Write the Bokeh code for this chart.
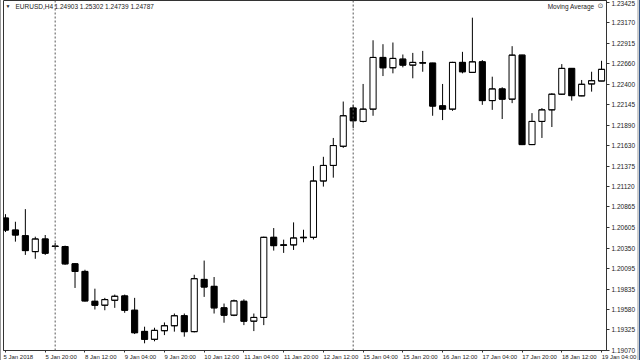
from bokeh.plotting import figure
from bokeh.models import ColumnDataSource, FixedTicker, Span, Label, Range1d, Div, PrintfTickFormatter
from bokeh.layouts import row
from bokeh.embed import file_html
from bokeh.resources import INLINE

# EURUSD H4 candles (open, high, low, close), one per 4-hour bar
opens = [1.20726, 1.20576, 1.20505, 1.20306, 1.20464, 1.20375, 1.20369, 1.20153, 1.20058, 1.19684,
         1.19635, 1.19697, 1.19751, 1.19572, 1.19307, 1.19208, 1.19316, 1.19378, 1.19503, 1.19304,
         1.19958, 1.19871, 1.19602, 1.19510, 1.19684, 1.19435, 1.19482, 1.20485, 1.20390, 1.20390,
         1.20480, 1.20485, 1.21190, 1.21385, 1.21625, 1.22103, 1.21936, 1.22090, 1.22737, 1.22608,
         1.22716, 1.22641, 1.22670, 1.22666, 1.22131, 1.22090, 1.22675, 1.22550, 1.22682, 1.22197,
         1.22343, 1.22215, 1.22766, 1.21646, 1.21936, 1.22081, 1.22277, 1.22600, 1.22256, 1.22405,
         1.22442]
highs = [1.20775, 1.20680, 1.20838, 1.20493, 1.20514, 1.20415, 1.20381, 1.20162, 1.20079, 1.19842,
         1.19727, 1.19768, 1.19768, 1.19727, 1.19366, 1.19353, 1.19419, 1.19531, 1.19531, 1.20016,
         1.20194, 1.19988, 1.19656, 1.19705, 1.19709, 1.19531, 1.20493, 1.20601, 1.20456, 1.20672,
         1.20580, 1.21376, 1.21493, 1.21729, 1.22185, 1.22144, 1.22405, 1.22952, 1.22903, 1.22924,
         1.22774, 1.22794, 1.22819, 1.22670, 1.22405, 1.22682, 1.22807, 1.23235, 1.22704, 1.22496,
         1.22364, 1.22878, 1.22770, 1.22040, 1.22103, 1.22289, 1.22654, 1.22605, 1.22455, 1.22558,
         1.22695]
lows = [1.20551, 1.20431, 1.20265, 1.20216, 1.20265, 1.20340, 1.20141, 1.19851, 1.19681, 1.19581,
        1.19572, 1.19602, 1.19540, 1.19274, 1.19158, 1.19183, 1.19261, 1.19304, 1.19241, 1.19295,
        1.19739, 1.19531, 1.19416, 1.19498, 1.19386, 1.19311, 1.19386, 1.20319, 1.20290, 1.20327,
        1.20423, 1.20458, 1.21120, 1.21232, 1.21605, 1.21854, 1.21924, 1.22007, 1.22504, 1.22538,
        1.22613, 1.22476, 1.22558, 1.22007, 1.21953, 1.22069, 1.22538, 1.22548, 1.22144, 1.22081,
        1.21966, 1.22165, 1.21640, 1.21640, 1.21729, 1.21866, 1.22268, 1.22197, 1.22252, 1.22309,
        1.22440]
closes = [1.20576, 1.20514, 1.20319, 1.20464, 1.20286, 1.20370, 1.20153, 1.20058, 1.19689, 1.19635,
          1.19705, 1.19747, 1.19572, 1.19291, 1.19208, 1.19320, 1.19378, 1.19503, 1.19304, 1.19967,
          1.19863, 1.19602, 1.19510, 1.19689, 1.19435, 1.19482, 1.20485, 1.20381, 1.20386, 1.20477,
          1.20485, 1.21190, 1.21385, 1.21634, 1.22007, 1.21945, 1.22090, 1.22737, 1.22608, 1.22725,
          1.22641, 1.22675, 1.22668, 1.22128, 1.22090, 1.22675, 1.22558, 1.22682, 1.22197, 1.22343,
          1.22215, 1.22766, 1.21646, 1.21936, 1.22081, 1.22277, 1.22600, 1.22259, 1.22401, 1.22446,
          1.22588]

tick_bars = [0, 4, 8, 12, 16, 20, 24, 28, 32, 36, 40, 44, 48, 52, 56, 60]
tick_labels = ["5 Jan 2018", "5 Jan 20:00", "8 Jan 12:00", "9 Jan 04:00", "9 Jan 20:00",
               "10 Jan 12:00", "11 Jan 04:00", "11 Jan 20:00", "12 Jan 12:00", "15 Jan 04:00",
               "15 Jan 20:00", "16 Jan 12:00", "17 Jan 04:00", "17 Jan 20:00", "18 Jan 12:00",
               "19 Jan 04:00"]
price_ticks = [1.23425, 1.23170, 1.22915, 1.22660, 1.22400, 1.22145, 1.21890, 1.21630, 1.21375,
               1.21120, 1.20865, 1.20605, 1.20350, 1.20095, 1.19835, 1.19580, 1.19325, 1.19070]
week_separators = [5, 35]

bars = list(range(len(opens)))
half = 0.31
src = ColumnDataSource(dict(
    x=bars,
    top=[max(o, c) for o, c in zip(opens, closes)],
    bottom=[min(o, c) for o, c in zip(opens, closes)],
    high=highs, low=lows,
    xl=[b - half for b in bars], xr=[b + half for b in bars],
    o=opens, c=closes,
    color=["white" if c > o else "black" for o, c in zip(opens, closes)],
))

FONT = "Liberation Sans"

# Arial/Liberation Sans advance widths (em) used to left-align centred axis labels
_W = {" ": 0.278, ":": 0.278, "J": 0.5}
def _em(s):
    return sum(_W.get(ch, 0.556) for ch in s)

def left_aligned(s):
    n = int(round(_em(s) / 0.278))
    return "\u00a0" * n + s

overrides = {}
for k, (b, l) in enumerate(zip(tick_bars, tick_labels)):
    # the first label is pinned to the left edge by the axis itself
    overrides[b] = l if k == 0 else left_aligned(l)

p = figure(frame_width=603, frame_height=350,
           x_range=Range1d(-0.2, 60.5), y_range=Range1d(1.19068, 1.23450),
           y_axis_location="right", toolbar_location=None, output_backend="svg",
           min_border_left=0, min_border_top=0, min_border_right=29, min_border_bottom=0,
           background_fill_color="white", border_fill_color="white",
           outline_line_color="#333333")
p.grid.visible = False

for s in week_separators:
    p.add_layout(Span(location=s, dimension="height", line_color="#555555",
                      line_dash="2 2", line_width=1))

p.segment(x0="x", y0="low", x1="x", y1="high", source=src, line_color="black", line_width=1)
p.vbar(x="x", top="top", bottom="bottom", width=2 * half, fill_color="color",
       line_color="black", line_width=1, source=src)
p.segment(x0="xl", y0="o", x1="xr", y1="o", source=src, line_color="black", line_width=1)
p.segment(x0="xl", y0="c", x1="xr", y1="c", source=src, line_color="black", line_width=1)

ya = p.yaxis[0]
ya.ticker = FixedTicker(ticks=price_ticks)
ya.formatter = PrintfTickFormatter(format="%.5f")
ya.major_label_text_font = FONT
ya.major_label_text_font_size = "6.5px"
ya.major_label_text_color = "#222222"
ya.major_tick_out = 3
ya.major_tick_in = 0
ya.minor_tick_out = 0
ya.minor_tick_in = 0
ya.major_label_standoff = 2
ya.axis_line_color = "#333333"
ya.major_tick_line_color = "#333333"

xa = p.xaxis[0]
xa.ticker = FixedTicker(ticks=tick_bars)
xa.major_label_overrides = overrides
xa.major_label_text_font = FONT
xa.major_label_text_font_size = "6px"
xa.major_label_text_color = "#222222"
xa.major_tick_out = 2
xa.major_tick_in = 0
xa.minor_tick_out = 0
xa.minor_tick_in = 0
xa.major_label_standoff = 1
xa.axis_line_color = "#333333"
xa.major_tick_line_color = "#333333"

hdr = dict(x_units="screen", y_units="screen", text_font=FONT, text_font_size="6.5px",
           text_color="#222222", text_baseline="middle")
p.add_layout(Label(x=2, y=344.5, text="\u25bc", x_units="screen", y_units="screen",
                   text_font=FONT, text_font_size="5px", text_color="#222222",
                   text_baseline="middle"))
p.add_layout(Label(x=12, y=344.5, text="EURUSD,H4", **hdr))
p.add_layout(Label(x=51, y=344.5, text="1.24903 1.25302 1.24739 1.24787", **hdr))
p.add_layout(Label(x=591, y=344.5, text="Moving Average", text_align="right", **hdr))
p.add_layout(Label(x=597, y=344.5, text="\u2299", text_align="center", x_units="screen", y_units="screen",
                   text_font="DejaVu Sans", text_font_size="7px", text_color="#444444",
                   text_baseline="middle"))

left = Div(width=3, height=360, margin=0,
           styles={"border-left": "1px solid #9a9a9a", "box-sizing": "border-box", "height": "360px"})
right = Div(width=5, height=360, margin=0,
            styles={"background": "#34578a", "border-left": "2px solid #cfcfcf",
                    "box-sizing": "border-box", "height": "360px"})

layout = row(left, p, right, spacing=0)
open("out.html", "w").write(file_html(layout, INLINE))
